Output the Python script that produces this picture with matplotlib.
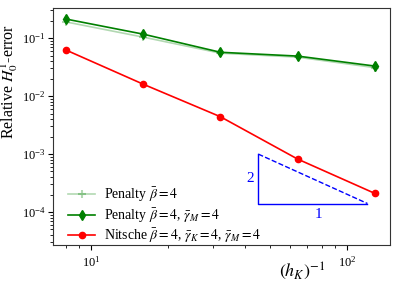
import numpy as np
import matplotlib
matplotlib.use("Agg")
import matplotlib.pyplot as plt

plt.rcParams['font.family'] = ['Liberation Serif', 'DejaVu Serif']
plt.rcParams['mathtext.fontset'] = 'stix'

h_inv = [8, 16, 32, 64, 128]
err_penalty = [0.19, 0.104, 0.055, 0.047, 0.031]
err_penalty_m = [0.213, 0.117, 0.057, 0.049, 0.033]
err_nitsche = [0.062, 0.016, 0.0044, 0.00082, 0.00021]

labels = [r'Penalty $\bar{\beta}=4$',
          r'Penalty $\bar{\beta}=4$, $\bar{\gamma}_M=4$',
          r'Nitsche $\bar{\beta}=4$, $\bar{\gamma}_K=4$, $\bar{\gamma}_M=4$']

tri_x = [45, 120]
tri_y0 = 1.4e-4


def main():
    fig = plt.figure(figsize=(3.99, 2.85), dpi=100)
    ax = fig.add_axes([53/399, 40/285, 337/399, 237/285])

    ax.loglog(h_inv, err_penalty, color='green', alpha=0.3, marker='+',
              markersize=6, mew=1.5, lw=1.2, label=labels[0])
    ax.loglog(h_inv, err_penalty_m, color='green', marker='d',
              markersize=5, lw=1.2, label=labels[1])
    ax.loglog(h_inv, err_nitsche, color='red', marker='o',
              markersize=4.5, lw=1.2, label=labels[2])

    # slope triangle
    x0, x1 = tri_x
    y1 = tri_y0 * (x1 / x0)**2
    ax.plot([x0, x0, x1], [y1, tri_y0, tri_y0], color='blue', lw=1)
    ax.plot([x0, x1], [y1, tri_y0], color='blue', lw=1, ls='--')
    ax.text(x0 * 0.96, np.sqrt(tri_y0 * y1), '2', color='blue',
            fontsize=11, ha='right', va='center')
    ax.text(np.sqrt(x0 * x1) * 1.05, tri_y0 * 0.85, '1', color='blue',
            fontsize=11, ha='center', va='top')

    ax.set_xlim(7.1, 147)
    ax.set_ylim(10**-4.57, 10**-0.48)

    ax.set_ylabel(r'Relative $H_0^1$-error', fontsize=11.5)
    ax.yaxis.set_label_coords(-0.097, 0.69)
    ax.set_xlabel(r'$(h_K)^{-1}$', fontsize=13)
    ax.xaxis.set_label_coords(0.74, -0.065)

    ax.tick_params(labelsize=9)
    ax.tick_params(axis='y', which='major', pad=2)
    for s in ax.spines.values():
        s.set_color('#333333')

    ax.legend(loc='lower left', bbox_to_anchor=(0.025, -0.03),
              frameon=False, fontsize=10,
              handlelength=1.9, handletextpad=0.65, borderaxespad=0.1,
              labelspacing=0.15, borderpad=0.4)

    fig.savefig('out.png', dpi=100)


if __name__ == '__main__': main()
